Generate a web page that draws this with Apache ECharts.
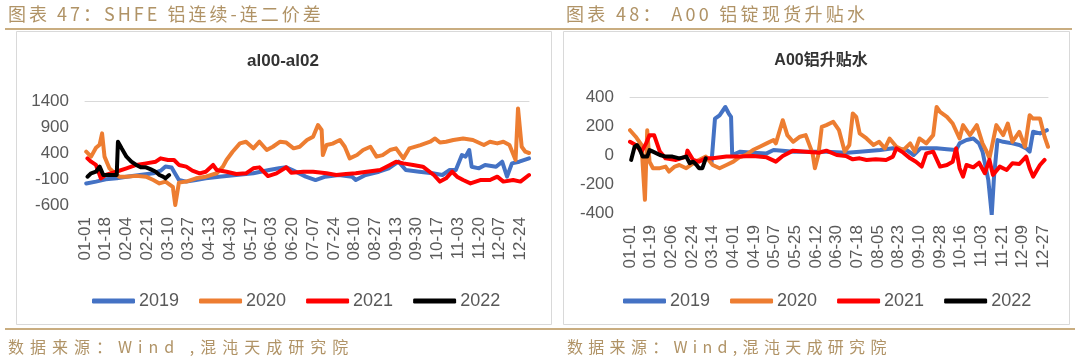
<!DOCTYPE html>
<html><head><meta charset="utf-8">
<script src="https://cdn.jsdelivr.net/npm/echarts@6/dist/echarts.min.js"></script>
<style>
html,body{margin:0;padding:0;background:#fff;width:1080px;height:361px;overflow:hidden;}
#chart{position:absolute;left:0;top:0;width:1080px;height:361px;}
.hdr{position:absolute;font-family:"Noto Sans CJK SC";color:#b09366;white-space:nowrap;line-height:1;}
.gold{position:absolute;height:2px;background:#c9ad80;}
</style></head><body>
<div id="chart"></div>
<div class="hdr" style="left:8px;top:4px;font-size:18px;letter-spacing:3px">图表 47：SHFE 铝连续-连二价差</div>
<div class="hdr" style="left:566px;top:4px;font-size:18px;letter-spacing:3.3px">图表 48： A00 铝锭现货升贴水</div>
<div class="gold" style="left:5px;top:28px;width:1067px;"></div>
<div class="gold" style="left:5px;top:328px;width:1070px;"></div>
<div class="hdr" style="left:8px;top:338px;font-size:16px;letter-spacing:6px">数据来源：Wind ,混沌天成研究院</div>
<div class="hdr" style="left:567px;top:338px;font-size:16px;letter-spacing:5.3px">数据来源：Wind,混沌天成研究院</div>
<script>
// ---- categories (month-day of a 365-day year) ----
const MONTH_DAYS = [31,28,31,30,31,30,31,31,30,31,30,31];
const categories = [];
MONTH_DAYS.forEach((n, m) => { for (let d = 1; d <= n; d++) categories.push(String(m+1).padStart(2,'0') + '-' + String(d).padStart(2,'0')); });

const seriesNames = ['2019','2020','2021','2022'];
const seriesColors = ['#4472C4','#ED7D31','#FF0000','#000000'];

// ---- Chart 47: SHFE al00-al02 spread ----
const spreadTitle = 'al00-al02';
const spreadTicks = [-600,-100,400,900,1400];
const spread2019 = [['01-02',-185],['01-10',-150],['01-18',-107],['01-27',-87],['02-04',-55],['02-15',-25],['02-26',9],['03-04',60],['03-08',140],['03-13',120],['03-15',40],['03-19',-120],['03-25',-150],['04-02',-120],['04-10',-87],['04-21',-55],['05-05',-23],['05-19',9],['06-01',73],['06-09',105],['06-15',124],['06-20',73],['07-01',-55],['07-09',-120],['07-17',-55],['07-28',-23],['08-08',-55],['08-11',-120],['08-19',-23],['08-30',40],['09-07',105],['09-15',233],['09-21',73],['10-02',40],['10-13',9],['10-21',-23],['10-27',73],['11-01',73],['11-06',361],['11-09',330],['11-12',457],['11-14',137],['11-20',105],['11-25',170],['12-04',137],['12-09',233],['12-13',-55],['12-17',200],['12-23',233],['12-31',297]];
const spread2020 = [['01-02',425],['01-06',330],['01-10',500],['01-13',560],['01-15',777],['01-17',330],['01-21',105],['01-24',40],['01-29',-55],['02-04',-55],['02-12',-40],['02-20',-55],['02-26',-120],['03-03',-185],['03-08',-150],['03-14',-250],['03-16',-600],['03-19',-170],['03-25',-150],['04-02',-87],['04-10',-55],['04-19',10],['04-24',137],['04-27',265],['05-02',425],['05-08',585],['05-13',617],['05-19',490],['05-24',617],['05-30',457],['06-04',520],['06-10',617],['06-15',600],['06-21',490],['06-26',520],['07-02',650],['07-07',714],['07-11',938],['07-14',842],['07-15',361],['07-18',553],['07-23',580],['07-29',650],['08-02',520],['08-06',297],['08-12',361],['08-17',457],['08-23',520],['08-28',330],['09-02',360],['09-08',457],['09-13',490],['09-19',297],['09-24',490],['10-03',553],['10-11',617],['10-15',680],['10-19',600],['10-24',617],['10-30',650],['11-07',680],['11-15',650],['11-24',553],['11-29',617],['12-05',585],['12-10',617],['12-15',553],['12-20',265],['12-22',1258],['12-25',520],['12-28',425],['12-31',400]];
const spread2021 = [['01-03',297],['01-06',233],['01-10',170],['01-14',-87],['01-18',-20],['01-24',20],['02-04',105],['02-12',170],['02-20',200],['02-28',233],['03-04',297],['03-10',265],['03-15',265],['03-19',170],['03-25',137],['03-30',60],['04-05',9],['04-10',40],['04-16',170],['04-19',73],['04-27',40],['05-05',-4],['05-13',9],['05-19',105],['05-24',124],['05-31',-43],['06-07',9],['06-15',125],['06-19',22],['06-29',40],['07-07',40],['07-18',9],['07-26',-23],['08-03',-4],['08-11',9],['08-20',40],['08-31',73],['09-08',170],['09-13',233],['09-19',200],['09-27',170],['10-05',137],['10-14',-23],['10-19',-150],['10-24',-87],['10-29',40],['11-02',-55],['11-07',-120],['11-13',-185],['11-21',-120],['11-29',-120],['12-05',-55],['12-10',-150],['12-18',-120],['12-24',-150],['12-31',-23]];
const spread2022 = [['01-03',-55],['01-06',9],['01-10',40],['01-13',137],['01-16',-23],['01-21',-23],['01-27',-23],['01-28',617],['01-31',490],['02-04',330],['02-08',233],['02-12',170],['02-16',124],['02-20',124],['02-24',85],['02-28',40],['03-03',-23],['03-06',-55],['03-08',-87],['03-11',-23]];

// ---- Chart 48: A00 spot premium/discount ----
const basisTitle = 'A00铝升贴水';
const basisTicks = [-400,-200,0,200,400];
const basis2019 = [['03-12',-30],['03-13',-50],['03-16',251],['03-20',274],['03-25',331],['03-28',286],['03-30',263],['03-31',0],['04-07',23],['04-18',16],['04-30',11],['05-06',34],['05-24',23],['06-21',23],['07-09',16],['07-20',23],['08-07',34],['08-18',46],['08-30',34],['09-05',0],['09-11',46],['09-25',46],['10-04',39],['10-12',34],['10-15',80],['10-21',103],['10-27',114],['11-01',80],['11-04',23],['11-09',-171],['11-12',-411],['11-14',-149],['11-17',103],['11-22',91],['11-30',80],['12-06',69],['12-12',46],['12-15',23],['12-18',160],['12-24',149],['12-30',171]];
const basis2020 = [['01-01',171],['01-06',126],['01-11',69],['01-14',-309],['01-16',171],['01-18',-46],['01-21',-91],['01-27',-91],['02-01',-80],['02-04',-114],['02-09',-80],['02-13',-69],['02-19',-91],['02-25',-57],['03-02',-34],['03-08',-11],['03-14',-69],['03-20',-91],['03-26',-69],['04-01',-46],['04-06',-16],['04-12',0],['04-18',34],['04-24',57],['04-30',80],['05-06',103],['05-08',80],['05-14',240],['05-18',137],['05-23',91],['05-29',126],['06-03',137],['06-09',11],['06-11',-91],['06-14',0],['06-17',194],['06-21',206],['06-27',229],['07-02',171],['07-07',23],['07-11',69],['07-14',286],['07-17',263],['07-20',149],['07-26',114],['08-01',69],['08-06',91],['08-11',46],['08-15',114],['08-21',57],['08-27',34],['09-02',80],['09-06',23],['09-10',114],['09-16',80],['09-22',137],['09-25',331],['09-28',297],['10-04',263],['10-09',217],['10-15',114],['10-18',206],['10-24',137],['10-30',206],['11-04',80],['11-07',34],['11-10',-23],['11-16',206],['11-22',137],['11-26',217],['11-30',91],['12-06',160],['12-11',57],['12-15',274],['12-18',251],['12-24',251],['12-28',126],['12-31',57]];
const basis2021 = [['01-01',91],['01-06',69],['01-11',23],['01-15',80],['01-18',137],['01-22',137],['01-27',23],['02-01',-23],['02-10',-34],['02-19',-11],['02-20',30],['02-25',-34],['03-02',-46],['03-08',-23],['03-14',-23],['03-26',-11],['04-06',-11],['04-18',-7],['04-30',-16],['05-08',-46],['05-14',-7],['05-23',30],['06-03',23],['06-15',16],['06-21',30],['06-30',0],['07-08',-7],['07-14',-30],['07-20',-23],['07-26',-34],['08-03',-30],['08-12',-34],['08-18',-11],['08-21',46],['08-27',16],['09-02',-23],['09-07',-46],['09-12',-80],['09-16',11],['09-22',23],['09-28',-80],['10-04',-69],['10-09',-46],['10-12',46],['10-15',-91],['10-18',-149],['10-21',-69],['10-27',-85],['11-01',-53],['11-06',-126],['11-10',-34],['11-13',-137],['11-19',-80],['11-25',-103],['11-30',-57],['12-06',-62],['12-12',-11],['12-15',-91],['12-18',-149],['12-24',-69],['12-28',-34]];
const basis2022 = [['01-02',-34],['01-05',57],['01-07',69],['01-09',46],['01-12',-11],['01-16',-11],['01-18',34],['01-21',23],['01-27',0],['02-01',-11],['02-07',-11],['02-13',-23],['02-19',-11],['02-22',-57],['02-25',-46],['02-28',-69],['03-02',-91],['03-05',-91],['03-08',-23]];

const FONT = '"Liberation Sans","Noto Sans CJK SC",sans-serif';
const GRAY = '#595959';

function xAxes(gridIndex, interval) {
  return [
    { type:'category', gridIndex, data:categories, boundaryGap:false,
      axisLine:{show:false}, axisTick:{show:false},
      axisLabel:{interval, rotate:90, margin:12, fontSize:17, color:GRAY, fontFamily:FONT} },
    { type:'category', gridIndex, data:categories, boundaryGap:false,
      axisLine:{show:true, onZero:true, lineStyle:{color:'#d9d9d9', width:1}},
      axisTick:{show:false}, axisLabel:{show:false} }
  ];
}
function yAxis(gridIndex, ticks) {
  return { type:'value', gridIndex, min:ticks[0], max:ticks[ticks.length-1], interval:ticks[1]-ticks[0],
    axisLine:{show:false}, axisTick:{show:false}, splitLine:{show:false},
    axisLabel:{margin:16, fontSize:17, color:GRAY, fontFamily:FONT, formatter: v => String(v)} };
}
function mkSeries(name, data, color, xIdx, yIdx) {
  return { type:'line', name, data, xAxisIndex:xIdx, yAxisIndex:yIdx, showSymbol:false, symbol:'none',
    connectNulls:true, lineStyle:{color, width:4, cap:'round', join:'round'}, itemStyle:{color}, z:3 };
}

const chart = echarts.init(document.getElementById('chart'), null, {renderer:'canvas'});
const spreadSets = [spread2019, spread2020, spread2021, spread2022];
const basisSets = [basis2019, basis2020, basis2021, basis2022];
const series = [];
spreadSets.forEach((d,i) => series.push(mkSeries(seriesNames[i], d, seriesColors[i], 0, 0)));
basisSets.forEach((d,i) => series.push(mkSeries(seriesNames[i], d, seriesColors[i], 2, 1)));

const legendBase = { data:seriesNames, icon:'roundRect', itemWidth:43, itemHeight:5, itemGap:20,
  textStyle:{fontSize:18, color:GRAY, fontFamily:FONT, padding:[0,0,0,-1]}, selectedMode:false };

chart.setOption({
  animation:false,
  backgroundColor:'#fff',
  grid:[
    {left:85, top:101, width:444, height:104},
    {left:630, top:97, width:418, height:116}
  ],
  xAxis:[...xAxes(0,16), ...xAxes(1,17)],
  yAxis:[yAxis(0, spreadTicks), yAxis(1, basisTicks)],
  legend:[
    Object.assign({left:87, top:287}, legendBase),
    Object.assign({left:618, top:287}, legendBase)
  ],
  graphic:[
    {type:'rect', z:-1, shape:{x:16.5, y:31.5, width:535, height:293}, style:{fill:'#fff', stroke:'#d9d9d9', lineWidth:1}},
    {type:'rect', z:-1, shape:{x:563.5, y:31.5, width:506, height:293}, style:{fill:'#fff', stroke:'#d9d9d9', lineWidth:1}},
    {type:'text', x:283, y:61, style:{text:spreadTitle, textAlign:'center', textVerticalAlign:'middle', font:'bold 17px "Liberation Sans","Noto Sans CJK SC",sans-serif', fill:'#333'}},
    {type:'text', x:821, y:61, style:{text:basisTitle, textAlign:'center', textVerticalAlign:'middle', font:'bold 16px "Liberation Sans","Noto Sans CJK SC",sans-serif', fill:'#333'}}
  ],
  series
});
</script>
</body></html>
